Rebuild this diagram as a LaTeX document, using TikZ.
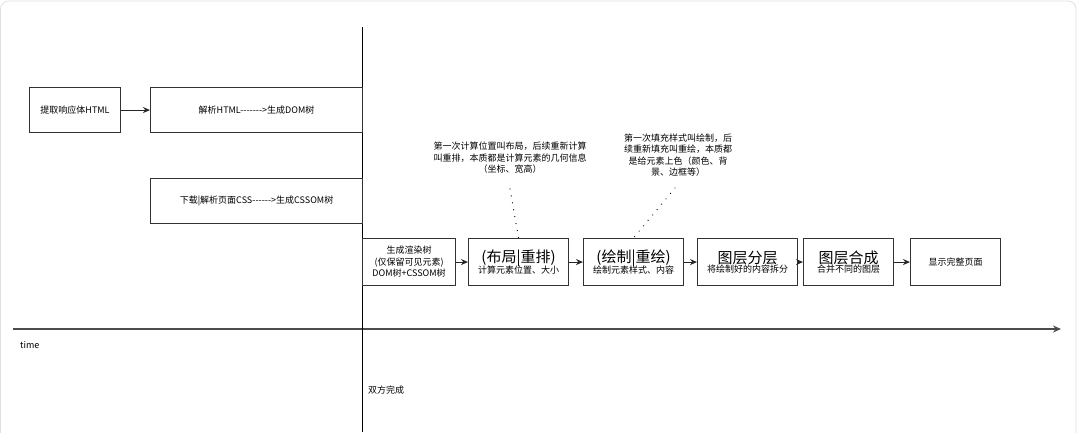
\documentclass[tikz,border=0pt]{standalone}
\usepackage{fontspec}
\setmainfont[Ligatures=TeXOff]{Noto Sans CJK SC}
\usetikzlibrary{arrows.meta}
\tikzset{
  box/.style={draw=black!80, line width=1.1pt, anchor=north west, inner sep=1pt, align=center,
              font=\fontsize{9}{11.5}\selectfont, minimum height=46},
  flow/.style={draw=black!85, line width=1pt, -{Stealth[length=7pt,width=6pt]}},
  dotline/.style={draw=black, line width=1.3pt, dash pattern=on 0.01pt off 7pt, line cap=round},
  note/.style={align=center, font=\fontsize{9}{11.5}\selectfont, inner sep=0pt},
  small/.style={font=\fontsize{9}{11}\selectfont, inner sep=0pt}
}
\newcommand{\bigt}[1]{{\fontsize{15}{18}\selectfont #1}}
\newcommand{\smt}[1]{{\fontsize{9}{11}\selectfont #1}}
\begin{document}
\begin{tikzpicture}[x=1pt,y=-1pt]
\useasboundingbox (0,0) rectangle (1080,432);
% faint frame
\draw[black!12, line width=0.8pt, rounded corners=8pt] (0.5,445) -- (0.5,1) -- (1076,1) -- (1076,445);
% timeline
\coordinate (t0) at (13,329);
\coordinate (t1) at (1061,329);
\draw[draw=black!70, line width=1.4pt, -{Stealth[length=8pt,width=7pt]}] (t0) -- (t1);
% vertical line
\coordinate (vtop) at (362,27);
\coordinate (vbot) at (362,432);
\draw[black, line width=1pt] (vtop) -- (vbot);
% boxes
\node[box, minimum width=91, minimum height=45] (fetch) at (29,87) {提取响应体HTML};
\node[box, minimum width=212, minimum height=45] (dom) at (150,87) {解析HTML------->生成DOM树};
\node[box, minimum width=212, minimum height=45] (cssom) at (150,178) {下载|解析页面CSS------>生成CSSOM树};
\node[box, minimum width=93, minimum height=47] (render) at (362,238) {生成渲染树\\(仅保留可见元素)\\DOM树+CSSOM树};
\node[box, minimum width=100, minimum height=47] (layout) at (468,238) {\bigt{(布局|重排)}\\[-2pt]\smt{计算元素位置、大小}};
\node[box, minimum width=100, minimum height=47] (paint) at (583,238) {\bigt{(绘制|重绘)}\\[-2pt]\smt{绘制元素样式、内容}};
\node[box, minimum width=100, minimum height=47] (layer) at (697,238) {\bigt{图层分层}\\[-2pt]\smt{将绘制好的内容拆分}};
\node[box, minimum width=90, minimum height=47] (comp) at (803,238) {\bigt{图层合成}\\[-2pt]\smt{合并不同的图层}};
\node[box, minimum width=90, minimum height=47] (show) at (910,238) {显示完整页面};
% arrows
\draw[flow] (fetch) -- (dom);
\draw[flow] (render) -- (layout);
\draw[flow] (layout) -- (paint);
\draw[flow] (paint) -- (layer);
\draw[flow] (layer) -- (comp);
\draw[flow] (comp) -- (show);
% notes
\node[note] (note1) at (510,158) {第一次计算位置叫布局，后续重新计算\\叫重排，本质都是计算元素的几何信息\\（坐标、宽高）};
\node[note] (note2) at (678,155) {第一次填充样式叫绘制，后\\续重新填充叫重绘，本质都\\是给元素上色（颜色、背\\景、边框等）};
\coordinate (d1) at (510,189);
\coordinate (d2) at (675,188);
\draw[dotline] (d1) -- (layout.north);
\draw[dotline] (d2) -- (paint.north);
% labels
\node[small, anchor=west] (time) at (20,345) {time};
\node[small, anchor=west] (done) at (368,390) {双方完成};
\end{tikzpicture}
\end{document}
